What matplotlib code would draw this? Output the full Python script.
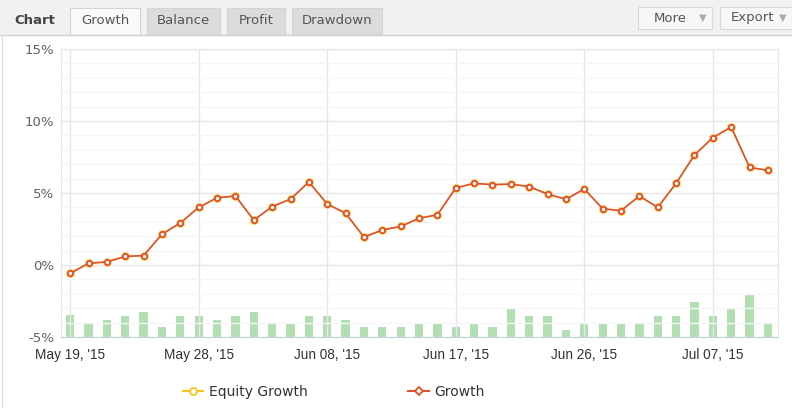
import numpy as np
import pandas as pd
import matplotlib
matplotlib.use("Agg")
import matplotlib.pyplot as plt
from matplotlib.patches import Rectangle
from matplotlib.lines import Line2D

# trading days shown on the chart (weekdays only)
dates = pd.bdate_range("2015-05-19", "2015-07-10")
growth = [-0.58, 0.12, 0.21, 0.60, 0.65, 2.14, 2.92, 4.00, 4.67, 4.79,
          3.12, 4.05, 4.58, 5.76, 4.24, 3.59, 1.94, 2.43, 2.68, 3.24,
          3.49, 5.35, 5.67, 5.58, 5.62, 5.44, 4.93, 4.56, 5.28, 3.91,
          3.77, 4.79, 4.00, 5.67, 7.64, 8.84, 9.58, 6.78, 6.57]
equity = growth
volume = [6.1, 3.7, 4.7, 5.8, 6.9, 2.9, 5.8, 5.8, 4.7, 5.8,
          6.9, 3.7, 3.7, 5.8, 5.8, 4.7, 2.9, 2.9, 2.9, 3.7,
          3.7, 2.9, 3.7, 2.9, 7.9, 5.8, 5.8, 2.0, 3.7, 3.7,
          3.7, 3.6, 5.7, 5.7, 9.8, 5.7, 7.7, 11.7, 3.5]
tick_idx = [0, 7, 14, 21, 28, 35]
tabs = ["Growth", "Balance", "Profit", "Drawdown"]

W, H = 792, 408
def fx(x): return x / W
def fy(y): return 1 - y / H

fig = plt.figure(figsize=(W / 100, H / 100), dpi=100)
fig.patch.set_facecolor("white")

# ---- tab bar on top ----
fig.patches.append(Rectangle((0, fy(35)), 1, 35 / H, transform=fig.transFigure,
                             facecolor="#f1f1f1", edgecolor="none", zorder=0))
fig.add_artist(Line2D([0, 1], [fy(35), fy(35)], color="#d0d0d0", lw=1))
fig.add_artist(Line2D([fx(2), fx(2)], [0, fy(35)], color="#dddddd", lw=1))
fig.text(fx(14), fy(20), "Chart", fontsize=9.5, fontweight="bold", color="#444444",
         va="center", ha="left")
tab_box = [(70, 140), (147, 220), (227, 285), (292, 382)]
for name, (x0, x1) in zip(tabs, tab_box):
    active = name == "Growth"
    fig.patches.append(Rectangle((fx(x0), fy(35)), (x1 - x0) / W, 27 / H,
                                 transform=fig.transFigure,
                                 facecolor="#fafafa" if active else "#dcdcdc",
                                 edgecolor="#d4d4d4", lw=0.8, zorder=1))
    fig.text(fx((x0 + x1) / 2), fy(21), name, fontsize=9.5, color="#555555",
             ha="center", va="center", zorder=2)
for label, (x0, x1) in zip(["More", "Export"], [(638, 712), (720, 792)]):
    fig.patches.append(Rectangle((fx(x0), fy(29)), (x1 - x0) / W, 22 / H,
                                 transform=fig.transFigure, facecolor="#f7f7f7",
                                 edgecolor="#d8d8d8", lw=0.8, zorder=1))
    fig.text(fx(x0 + 32), fy(18), label, fontsize=9.5, color="#555555",
             ha="center", va="center", zorder=2)
    fig.text(fx(x1 - 9), fy(18), "\u25bc", fontsize=7, color="#aaaaaa",
             ha="center", va="center", zorder=2)

# ---- plot area ----
ax = fig.add_axes([fx(61), fy(337), (778 - 61) / W, (337 - 49) / H])
ax2 = ax.twinx()
x = np.arange(len(dates))

ax2.bar(x, volume, width=0.45, color="#b2dfb2", zorder=1)
ax2.set_ylim(0, 80)
ax2.axis("off")

ax.set_zorder(ax2.get_zorder() + 1)
ax.patch.set_visible(False)
ax.plot(x, equity, color="#f5c518", lw=1.0, marker="o", ms=5.2,
        mfc="white", mec="#f7c93a", mew=1.0, zorder=3)
ax.plot(x, growth, color="#e0512a", lw=1.2, marker="o", ms=3.8,
        mfc="white", mec="#e0512a", mew=1.3, zorder=4)

ax.set_xlim(-0.5, 38.55)
ax.set_ylim(-5, 15)
ax.set_yticks([-5, 0, 5, 10, 15])
ax.set_yticklabels(["-5%", "0%", "5%", "10%", "15%"])
ax.set_yticks(np.arange(-5, 16, 1), minor=True)
ax.set_xticks(tick_idx)
ax.set_xticklabels([dates[i].strftime("%b %d, '%y") for i in tick_idx],
                   fontfamily="Liberation Sans", fontsize=9.8, color="#333333")
ax.tick_params(axis="both", length=0, which="both")
ax.tick_params(axis="y", labelsize=9.5, labelcolor="#606060", pad=5)
ax.tick_params(axis="x", pad=8)
ax.grid(True, which="major", color="#e6e6e6", lw=1)
ax.grid(True, which="minor", axis="y", color="#f5f5f5", lw=1)
for side in ["top", "right", "left"]:
    ax.spines[side].set_color("#e6e6e6")
ax.spines["bottom"].set_color("#c0d0e0")
ax.set_axisbelow(True)

# ---- legend ----
handles = [Line2D([], [], color="#f5c518", lw=1.5, marker="o", ms=5, mfc="white",
                  mec="#f5c518", mew=1.3),
           Line2D([], [], color="#e0512a", lw=1.5, marker="D", ms=4, mfc="white",
                  mec="#e0512a", mew=1.3)]
fig.legend(handles, ["Equity Growth", "Growth"], loc="center left",
           bbox_to_anchor=(fx(170), fy(392)), ncol=2, frameon=False,
           fontsize=10, handlelength=1.5, handletextpad=0.4, columnspacing=7.25,
           labelcolor="#333333")

fig.savefig("out.png", dpi=100)
